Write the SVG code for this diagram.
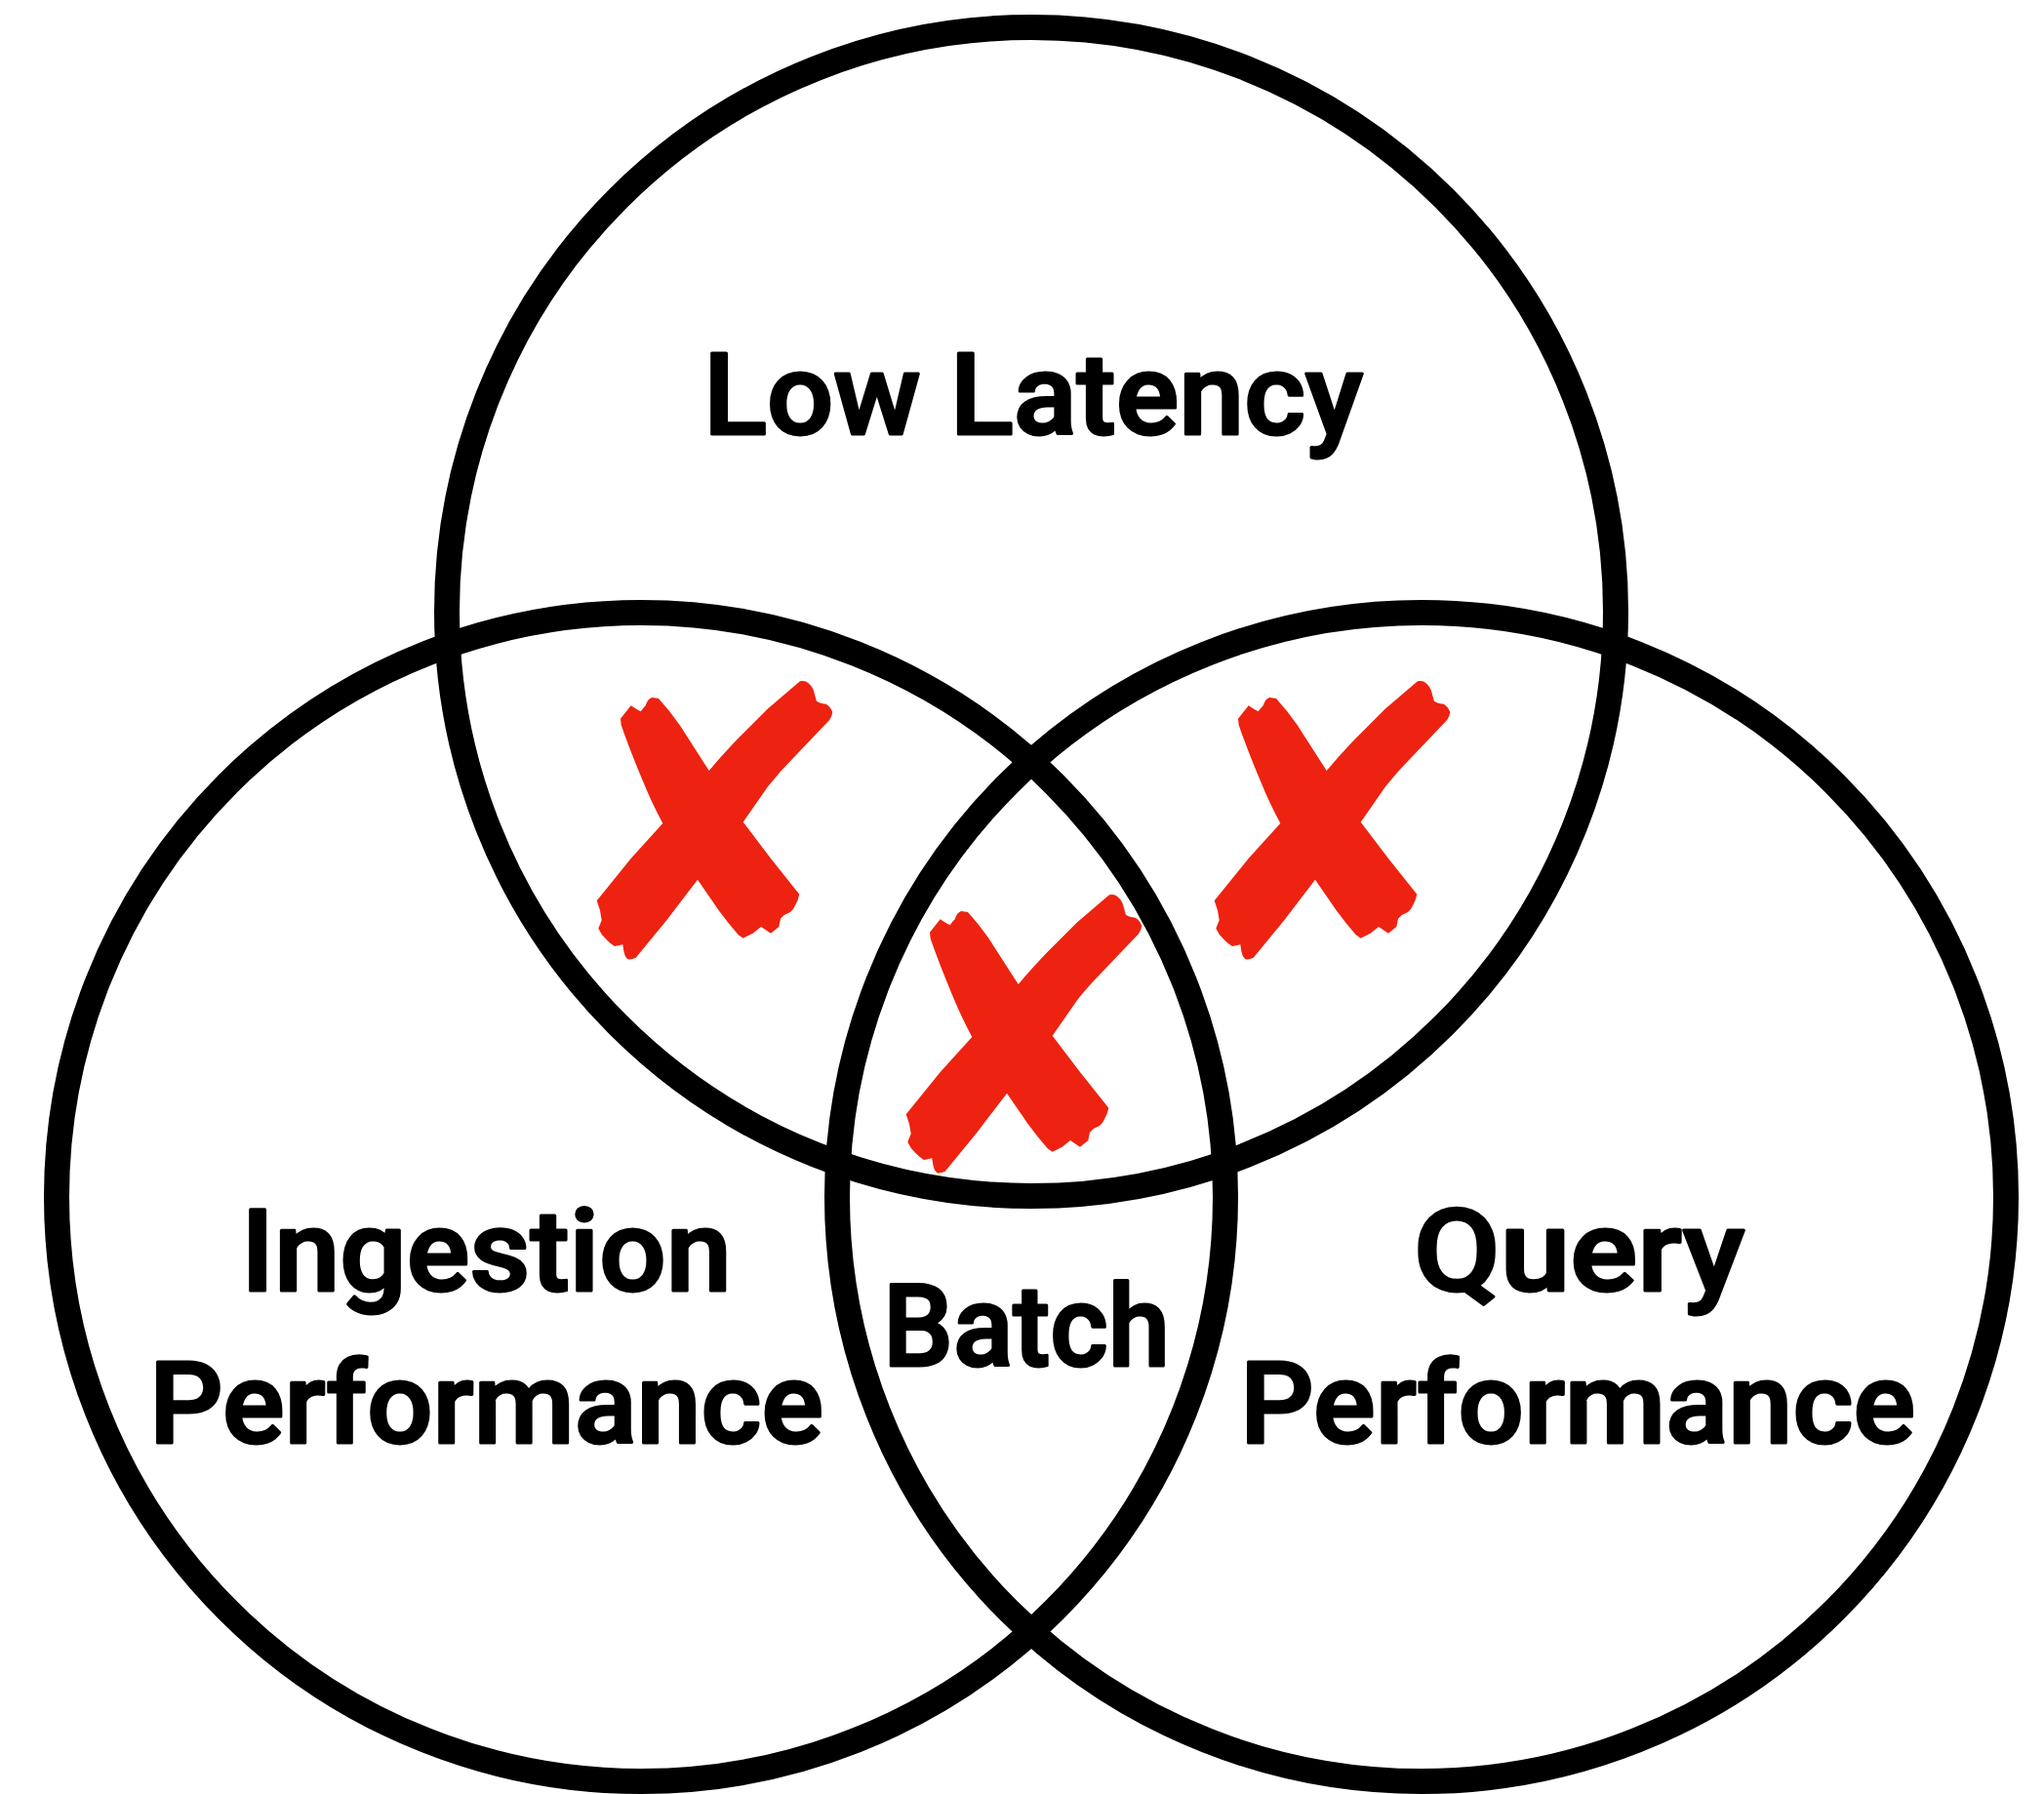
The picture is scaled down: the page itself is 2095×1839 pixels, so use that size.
<svg xmlns="http://www.w3.org/2000/svg" xmlns:xlink="http://www.w3.org/1999/xlink" width="2095" height="1839" viewBox="0 0 2095 1839">
  <style>
    .ring { fill: none; stroke: #000; stroke-width: 26; }
    .label { font-family: Roboto, "DejaVu Sans", "Liberation Sans", sans-serif; font-weight: 500; font-size: 116px; fill: #000; stroke: #000; stroke-width: 3; stroke-linejoin: round; stroke-linecap: round; }
    .cross { fill: #EE2210; }
  </style>
  <defs>
    <!-- brush-stroke style cross mark, local coordinates -->
    <path id="cross-mark" class="cross" d="M56,56.7 L66.7,43.3 Q72,47 76.7,49.3 Q79,46 81.7,43.3 Q84,36 88.3,35 L95,36 Q106,48 116.7,63.3 L146.7,110 Q160,94 176.7,76.7 L206.7,46.7 L240,18.3 Q245,17 248.3,20 Q254,25 255,31.7 L256.7,38.3 Q259,41 266.7,41.7 Q271,44 273.3,50 Q273,54 270,58.3 L233.3,96.7 Q219,111 206.7,126.7 L181.7,162.7 L210,200 L239.3,236.7 Q238,243 235,248.3 Q233,253 230,255 Q224,257 220,261.7 Q219,267 218.3,270 L210,276.7 L200,270 L191.7,276.7 L181.7,281.7 L176.7,278.3 Q166,266 156.7,253.3 L135,221.7 L103.3,263.3 L71.7,301.7 Q67,304 63.3,303.3 Q60,300 59.3,295 L58.3,288.3 L50,290 Q45,287 41.7,283.3 Q36,278 33.3,271.7 L36.7,263.3 L35,253.3 L31.7,243.3 L66.7,200 L99.3,164 Q88,143 80,123.3 Q66,90 56.7,63.3 Z"/>
  </defs>

  <g id="circle-low-latency">
    <circle class="ring" cx="1057" cy="627" r="599"/>
    <text class="label" x="721" y="445" textLength="676" lengthAdjust="spacingAndGlyphs">Low Latency</text>
  </g>

  <g id="circle-ingestion">
    <circle class="ring" cx="657" cy="1227" r="599"/>
    <text class="label" x="247" y="1323" textLength="503" lengthAdjust="spacingAndGlyphs">Ingestion</text>
    <text class="label" x="153" y="1479" textLength="691" lengthAdjust="spacingAndGlyphs">Performance</text>
  </g>

  <g id="circle-query">
    <circle class="ring" cx="1457" cy="1227" r="599"/>
    <text class="label" x="1449" y="1323" textLength="339" lengthAdjust="spacingAndGlyphs">Query</text>
    <text class="label" x="1271" y="1479" textLength="692" lengthAdjust="spacingAndGlyphs">Performance</text>
  </g>

  <g id="region-batch">
    <text class="label" x="905" y="1400" textLength="294" lengthAdjust="spacingAndGlyphs">Batch</text>
  </g>

  <g id="cross-latency-ingestion">
    <use xlink:href="#cross-mark" href="#cross-mark" transform="translate(580,680)"/>
  </g>
  <g id="cross-latency-query">
    <use xlink:href="#cross-mark" href="#cross-mark" transform="translate(1213,680)"/>
  </g>
  <g id="cross-center">
    <use xlink:href="#cross-mark" href="#cross-mark" transform="translate(897,899)"/>
  </g>
</svg>
